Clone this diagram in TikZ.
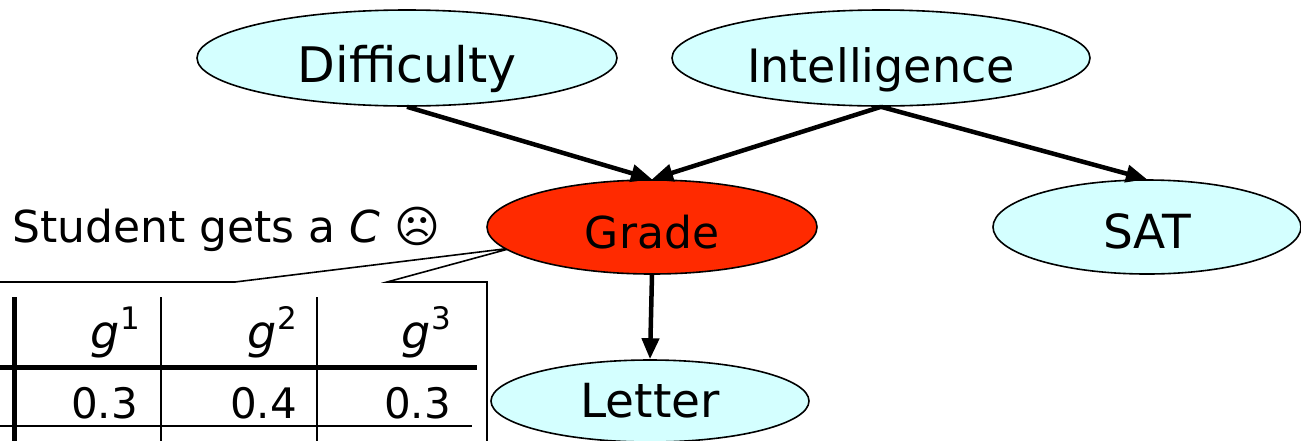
\documentclass[tikz,border=0pt]{standalone}
\usepackage{fontspec}
\setmainfont{DejaVu Sans}
\usetikzlibrary{shapes.geometric,arrows.meta}
\definecolor{lcyan}{RGB}{212,255,255}
\definecolor{gred}{RGB}{255,42,0}
\newcommand{\fsz}[1]{\fontsize{#1}{#1}\selectfont}
\newcommand{\gsup}[1]{\textit{g}\raisebox{19pt}{\fsz{31}#1}}
\begin{document}
\begin{tikzpicture}[x=1pt,y=-1pt,
  var/.style={ellipse,draw=black,line width=1.6pt,fill=lcyan,inner sep=0pt,text depth=0pt},
  edge/.style={line width=4.5pt,-{Triangle[length=21pt,width=17pt]}},
  thin/.style={line width=1.6pt},
  thick/.style={line width=5pt},
  cell/.style={anchor=base east,inner sep=0pt}]
\useasboundingbox (0,0) rectangle (1301,440);
\clip (0,0) rectangle (1301,440);
% callout
\draw[thin,line join=miter] (0,282) -- (235,282) -- (512,248) -- (387,282) -- (487,282) -- (487,445);
% nodes
\node[var,font=\fsz{49},text height=48pt,minimum width=420pt,minimum height=96pt] (D) at (407,58) {Difficulty};
\node[var,font=\fsz{46},text height=48pt,minimum width=418pt,minimum height=96pt] (I) at (881,58) {Intelligence};
\node[var,fill=gred,font=\fsz{44},text height=42pt,minimum width=330pt,minimum height=94pt] (G) at (652,227) {Grade};
\node[var,font=\fsz{47},text height=42pt,minimum width=308pt,minimum height=94pt] (S) at (1147,227) {SAT};
\node[var,font=\fsz{47},text height=32pt,minimum width=318pt,minimum height=82pt] (L) at (650,401) {Letter};
% edges
\draw[edge] (D.south) -- (G.north);
\draw[edge] (I.south) -- (G.north);
\draw[edge] (I.south) -- (S.north);
\draw[edge] (G.south) -- (L.north);
% caption
\node[anchor=base west,inner sep=0pt,font=\fsz{44}] (cap) at (12,242) {Student gets a \textit{C} ☹};
% table
\draw[thick] (14,297) -- (14,445);
\draw[thin] (161,297) -- (161,445);
\draw[thin] (317,297) -- (317,445);
\draw[thick] (0,367) -- (477,367);
\draw[thin] (0,426) -- (472,426);
\node[cell,font=\fsz{46}] (h1) at (140,348) {\gsup{1}};
\node[cell,font=\fsz{46}] (h2) at (297,348) {\gsup{2}};
\node[cell,font=\fsz{46}] (h3) at (451,348) {\gsup{3}};
\node[cell,font=\fsz{42}] (v1) at (138,418) {0.3};
\node[cell,font=\fsz{42}] (v2) at (297,418) {0.4};
\node[cell,font=\fsz{42}] (v3) at (451,418) {0.3};
\end{tikzpicture}
\end{document}
